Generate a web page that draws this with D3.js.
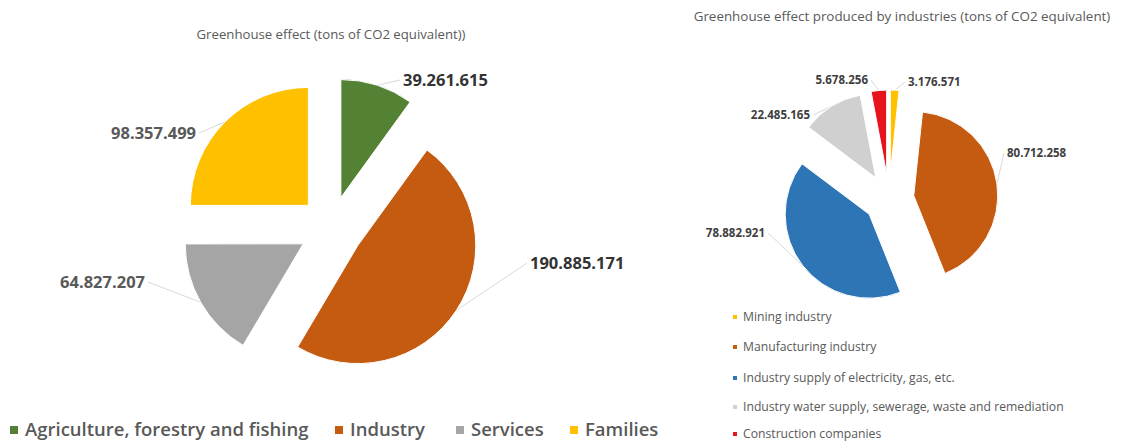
<!DOCTYPE html>
<html>
<head>
<meta charset="utf-8">
<script src="https://cdn.jsdelivr.net/npm/d3@7"></script>
<style>
  body { margin: 0; background: #fff; }
  svg  { display: block; font-family: "Open Sans", Lato, sans-serif; }
</style>
</head>
<body>
<svg width="1123" height="443"></svg>
<script>
// ---------------------------------------------------------------------
// Data (tons of CO2 equivalent)
// ---------------------------------------------------------------------
const sectorNames  = ["Agriculture, forestry and fishing", "Industry", "Services", "Families"];
const sectorValues = [39261615, 190885171, 64827207, 98357499];
const sectorColors = ["#548235", "#C55A11", "#A5A5A5", "#FFC000"];

const industryNames  = ["Mining industry", "Manufacturing industry",
                        "Industry supply of electricity, gas, etc.",
                        "Industry water supply, sewerage, waste and remediation",
                        "Construction companies"];
const industryValues = [3176571, 80712258, 78882921, 22485165, 5678256];
const industryColors = ["#FFC000", "#C55A11", "#2E75B6", "#D0D0D0", "#E8141B"];

const leftTitle  = "Greenhouse effect (tons of CO2 equivalent))";
const rightTitle = "Greenhouse effect produced by industries (tons of CO2 equivalent)";

// label placement relative to each pie centre (layout only)
const sectorLabelPos   = [[72, -148, "start"], [199, 35, "start"], [-186, 54, "end"], [-135, -95, "end"]];
const industryLabelPos = [[19, -117, "start"], [118, -46, "start"], [-124, 34, "end"], [-79, -84, "end"], [-21, -119, "end"]];

// Italian style thousands separator
const fmt = d3.formatLocale({decimal: ",", thousands: ".", grouping: [3], currency: ["", ""]}).format(",d");

const svg = d3.select("svg");

function drawPie(cfg) {
  let pie  = d3.pie().sort(null).value(d => d)(cfg.values),
      arc  = d3.arc().innerRadius(0).outerRadius(cfg.r),
      g    = svg.append("g").attr("transform", `translate(${cfg.cx},${cfg.cy})`),
      off  = d => { let m = (d.startAngle + d.endAngle) / 2;
                    return [Math.sin(m) * cfg.explode, -Math.cos(m) * cfg.explode]; },
      edge = d => { let m = (d.startAngle + d.endAngle) / 2, o = off(d);
                    return [o[0] + Math.sin(m) * cfg.r, o[1] - Math.cos(m) * cfg.r]; };

  // leader lines first so the slices sit on top
  g.selectAll(".leader")
    .data(pie)
    .enter().append("line")
      .attr("class", "leader")
      .attr("x1", d => edge(d)[0])
      .attr("y1", d => edge(d)[1])
      .attr("x2", (d, i) => cfg.labels[i][0] + (cfg.labels[i][2] == "start" ? -3 : 3))
      .attr("y2", (d, i) => cfg.labels[i][1])
      .attr("stroke", "#D9D9D9")
      .attr("stroke-width", 1);

  g.selectAll(".slice")
    .data(pie)
    .enter().append("path")
      .attr("class", "slice")
      .attr("transform", d => `translate(${off(d)})`)
      .attr("d", arc)
      .attr("fill", (d, i) => cfg.colors[i])
      .attr("stroke", "#fff")
      .attr("stroke-width", 1);

  g.selectAll(".lbl")
    .data(pie)
    .enter().append("text")
      .attr("class", "lbl")
      .attr("x", (d, i) => cfg.labels[i][0])
      .attr("y", (d, i) => cfg.labels[i][1])
      .attr("dy", "0.35em")
      .attr("text-anchor", (d, i) => cfg.labels[i][2])
      .attr("font-size", cfg.labelSize)
      .attr("font-weight", "bold")
      .attr("fill", (d, i) => cfg.labelColors ? cfg.labelColors[i] : "#404040")
      .text(d => fmt(d.value));
}

// ---------------- left: all sectors ----------------
svg.append("text")
  .attr("x", 331).attr("y", 34).attr("dy", "0.35em")
  .attr("text-anchor", "middle")
  .attr("font-size", 13.2).attr("fill", "#595959")
  .text(leftTitle);

drawPie({cx: 331, cy: 228, r: 118, explode: 32, values: sectorValues, colors: sectorColors,
         labels: sectorLabelPos, labelSize: 16.5,
         labelColors: ["#333", "#333", "#595959", "#595959"]});

let legL = svg.append("g").attr("transform", "translate(0,430)");
let legX = [10, 335, 456, 570];
legL.selectAll("g")
  .data(sectorNames)
  .enter().append("g")
    .attr("transform", (d, i) => `translate(${legX[i]},0)`)
    .each(function(d, i) {
      let s = d3.select(this);
      s.append("rect").attr("x", 0).attr("y", -4).attr("width", 8).attr("height", 8)
        .attr("fill", sectorColors[i]);
      s.append("text").attr("x", 15).attr("dy", "0.35em")
        .attr("font-size", 18.5).attr("font-weight", 600).attr("fill", "#595959")
        .text(d);
    });

// ---------------- right: industries ----------------
svg.append("text")
  .attr("x", 902).attr("y", 16).attr("dy", "0.35em")
  .attr("text-anchor", "middle")
  .attr("font-size", 13.4).attr("fill", "#595959")
  .text(rightTitle);

drawPie({cx: 889, cy: 199, r: 84, explode: 25, values: industryValues, colors: industryColors,
         labels: industryLabelPos, labelSize: 11.5});

let legR = svg.append("g").attr("transform", "translate(735,0)");
let legRY = [317, 347, 378, 407, 434];
legR.selectAll("g")
  .data(industryNames)
  .enter().append("g")
    .attr("transform", (d, i) => `translate(0,${legRY[i]})`)
    .each(function(d, i) {
      let s = d3.select(this);
      s.append("rect").attr("x", -2).attr("y", -2).attr("width", 4).attr("height", 4)
        .attr("fill", industryColors[i]);
      s.append("text").attr("x", 8).attr("dy", "0.35em")
        .attr("font-size", 12.2).attr("fill", "#595959")
        .text(d);
    });
</script>
</body>
</html>
